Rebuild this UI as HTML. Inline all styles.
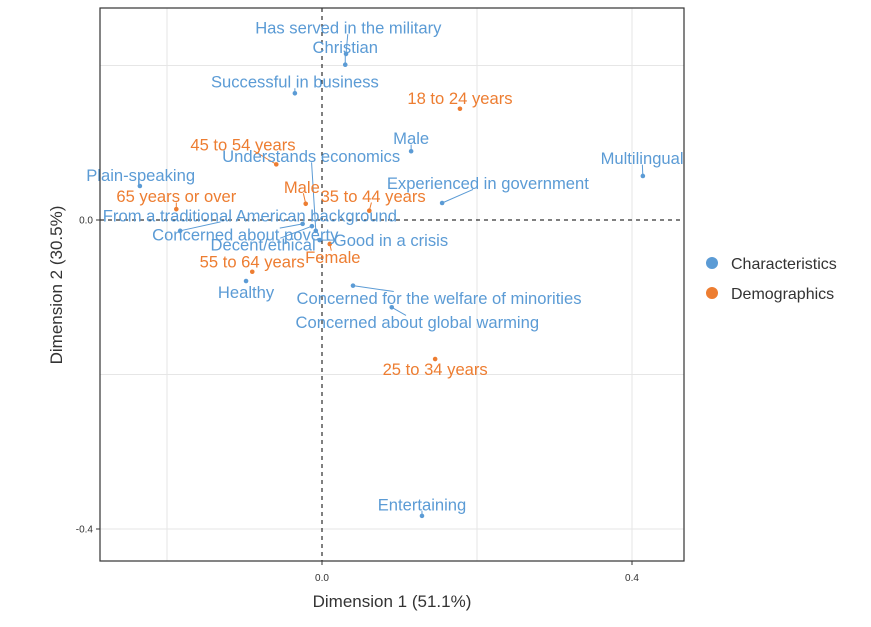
<!DOCTYPE html>
<html><head><meta charset="utf-8"><style>
body{margin:0;background:#fff;font-family:"Liberation Sans",Arial,sans-serif}
svg text{font-family:"Liberation Sans",Arial,sans-serif}
</style></head><body>
<svg id="chart" width="871" height="622">
<rect x="0" y="0" width="871" height="622" fill="#fff"/>
<g id="grid"></g><g id="zero"></g><g id="lines"></g><g id="pts"></g><g id="labels"></g>
<rect x="100" y="8" width="584" height="553" fill="none" stroke="#333" stroke-width="1.2"/>
<g id="axes"></g>
<text x="392" y="607" font-size="17" fill="#333" text-anchor="middle">Dimension 1 (51.1%)</text>
<text transform="translate(62,285) rotate(-90)" font-size="17" fill="#333" text-anchor="middle">Dimension 2 (30.5%)</text>
<g>
<circle cx="712" cy="263" r="6" fill="#5b9bd5"/>
<text x="731" y="269" font-size="16" fill="#333">Characteristics</text>
<circle cx="712" cy="293" r="6" fill="#ed7d31"/>
<text x="731" y="299" font-size="16" fill="#333">Demographics</text>
</g>
</svg>
<script>
const charNames=["Has served in the military","Christian","Successful in business","Male","Multilingual","Experienced in government","Plain-speaking","From a traditional American background","Concerned about poverty","Decent/ethical","Good in a crisis","Understands economics","Healthy","Concerned for the welfare of minorities","Concerned about global warming","Entertaining"];
const charX=[0.031,0.030,-0.035,0.115,0.414,0.155,-0.235,-0.183,-0.025,-0.013,-0.003,-0.008,-0.098,0.040,0.090,0.129];
const charY=[0.215,0.201,0.164,0.089,0.057,0.022,0.044,-0.014,-0.005,-0.008,-0.026,-0.014,-0.079,-0.085,-0.113,-0.383];
const charLX=[0.034,0.030,-0.035,0.115,0.413,0.214,-0.234,-0.093,-0.099,-0.076,0.089,-0.014,-0.098,0.151,0.123,0.129];
const charLY=[0.249,0.224,0.179,0.106,0.080,0.048,0.058,0.006,-0.019,-0.032,-0.026,0.083,-0.093,-0.101,-0.132,-0.368];
const demoNames=["18 to 24 years","45 to 54 years","Male","35 to 44 years","65 years or over","Female","55 to 64 years","25 to 34 years"];
const demoX=[0.178,-0.059,-0.021,0.061,-0.188,0.010,-0.090,0.146];
const demoY=[0.144,0.072,0.021,0.012,0.014,-0.031,-0.067,-0.180];
const demoLX=[0.178,-0.102,-0.026,0.066,-0.188,0.014,-0.090,0.146];
const demoLY=[0.158,0.098,0.043,0.031,0.031,-0.048,-0.054,-0.193];
const xTicks=[0.0,0.4], xTickLabels=["0.0","0.4"];
const yTicks=[0.0,-0.4], yTickLabels=["0.0","-0.4"];
const xGrid=[-0.2,0.2,0.4], yGrid=[0.2,-0.2,-0.4];
const NS="http://www.w3.org/2000/svg";
const sx=v=>322+v*775, sy=v=>220-v*772.5;
function mk(tag,attrs,parent){const e=document.createElementNS(NS,tag);for(const k in attrs)e.setAttribute(k,attrs[k]);document.getElementById(parent).appendChild(e);return e;}
xGrid.forEach(v=>{const l=mk('line',{x1:sx(v),x2:sx(v),y1:8,y2:561,stroke:'#e6e6e6'},'grid');});
yGrid.forEach(v=>{const l=mk('line',{x1:100,x2:684,y1:sy(v),y2:sy(v),stroke:'#e6e6e6'},'grid');});
let z=mk('line',{x1:sx(0),x2:sx(0),y1:8,y2:561,stroke:'#000','stroke-dasharray':'4,4'},'zero');
z=mk('line',{x1:100,x2:684,y1:sy(0),y2:sy(0),stroke:'#000','stroke-dasharray':'4,4'},'zero');
xTicks.forEach((v,i)=>{mk('line',{x1:sx(v),x2:sx(v),y1:561,y2:565,stroke:'#333'},'axes');const t=mk('text',{x:sx(v),y:581,'font-size':10,'text-anchor':'middle',fill:'#333'},'axes');t.textContent=xTickLabels[i];});
yTicks.forEach((v,i)=>{mk('line',{x1:96,x2:100,y1:sy(v),y2:sy(v),stroke:'#333'},'axes');const t=mk('text',{x:93,y:sy(v)+3.5,'font-size':10,'text-anchor':'end',fill:'#333'},'axes');t.textContent=yTickLabels[i];});
function series(names,X,Y,LX,LY,col,kind){
 names.forEach((n,i)=>{
  const px=sx(X[i]),py=sy(Y[i]);
  const c=mk('circle',{cx:px,cy:py,r:2.3,fill:col},'pts');
  
  
  const cx=sx(LX[i]),cy=sy(LY[i]);
  const t=mk('text',{x:cx,y:cy+6,'font-size':16.6,'text-anchor':'middle',fill:col},'labels');
  t.textContent=n;
  
  
  const b=t.getBBox();
  const hw=b.width/2, hh=b.height/2-3;
  const dx=px-cx, dy=py-cy;
  let s=Infinity;
  if(dx!==0) s=Math.min(s,hw/Math.abs(dx));
  if(dy!==0) s=Math.min(s,hh/Math.abs(dy));
  if(s<1){
   const qx=cx+dx*s, qy=cy+dy*s;
   if(Math.hypot(qx-px,qy-py)>5){
    const l=mk('line',{x1:px,y1:py,x2:qx,y2:qy,stroke:col,'stroke-width':1},'lines');
    
    
   }
  }
 });
}
series(charNames,charX,charY,charLX,charLY,'#5b9bd5','characteristic');
series(demoNames,demoX,demoY,demoLX,demoLY,'#ed7d31','demographic');
</script>
</body></html>
